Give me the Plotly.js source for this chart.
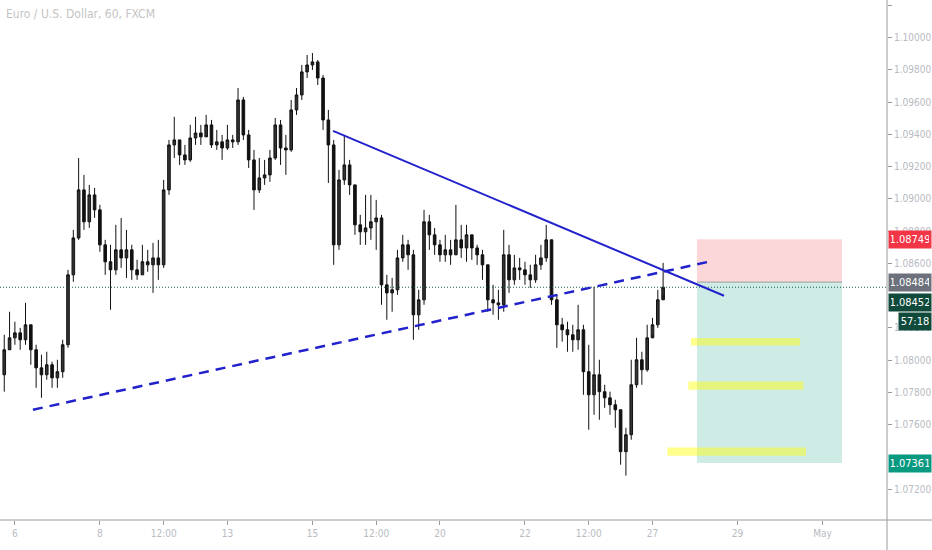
<!DOCTYPE html>
<html>
<head>
<meta charset="utf-8">
<script src="https://cdn.plot.ly/plotly-3.0.1.min.js"></script>
<style>
  html, body { margin: 0; padding: 0; background: #ffffff; }
  #chart_eurusd { width: 932px; height: 550px; }
</style>
</head>
<body>
<div id="chart_eurusd"></div>
<script>
// EUR/USD, hourly chart shown as 3 hour bars (x = trading hours from the 6th)
const barHours = 3;
const firstHour = -6;

const closes = [
  1.08064, 1.08138, 1.08169, 1.08126, 1.08219, 1.08064, 1.07952, 1.07909, 1.07971, 1.07890,
  1.07928, 1.08095, 1.08529, 1.08758, 1.09056, 1.08858, 1.09025, 1.08932, 1.08715, 1.08610,
  1.08560, 1.08684, 1.08634, 1.08684, 1.08560, 1.08529, 1.08610, 1.08591, 1.08634, 1.08591,
  1.09056, 1.09335, 1.09366, 1.09273, 1.09242, 1.09378, 1.09409, 1.09385, 1.09459, 1.09335,
  1.09354, 1.09316, 1.09366, 1.09354, 1.09614, 1.09397, 1.09242, 1.09056, 1.09130, 1.09149,
  1.09254, 1.09459, 1.09316, 1.09304, 1.09552, 1.09645, 1.09788, 1.09831, 1.09850, 1.09750,
  1.09490, 1.09335, 1.08715, 1.09118, 1.09211, 1.09087, 1.08839, 1.08796, 1.08820, 1.08858,
  1.08882, 1.08467, 1.08417, 1.08436, 1.08634, 1.08715, 1.08653, 1.08281, 1.08374, 1.08858,
  1.08777, 1.08715, 1.08653, 1.08684, 1.08653, 1.08746, 1.08696, 1.08777, 1.08696, 1.08653,
  1.08591, 1.08374, 1.08355, 1.08343, 1.08653, 1.08498, 1.08572, 1.08560, 1.08529, 1.08498,
  1.08591, 1.08634, 1.08746, 1.08374, 1.08219, 1.08188, 1.08157, 1.08126, 1.08188, 1.07928,
  1.07785, 1.07909, 1.07804, 1.07766, 1.07723, 1.07692, 1.07432, 1.07537, 1.07847, 1.08002,
  1.07940, 1.08138, 1.08219, 1.08374, 1.08452,
];

const highs = [
  1.08157, 1.08300, 1.08238, 1.08200, 1.08355, 1.08188, 1.08095, 1.08033, 1.08052, 1.07990,
  1.08002, 1.08126, 1.08560, 1.08808, 1.09254, 1.09149, 1.09087, 1.09068, 1.08963, 1.08746,
  1.08715, 1.08839, 1.08882, 1.08808, 1.08715, 1.08622, 1.08715, 1.08684, 1.08727, 1.08746,
  1.09118, 1.09366, 1.09509, 1.09366, 1.09335, 1.09459, 1.09509, 1.09459, 1.09521, 1.09490,
  1.09428, 1.09397, 1.09459, 1.09397, 1.09688, 1.09633, 1.09428, 1.09304, 1.09254, 1.09242,
  1.09304, 1.09502, 1.09490, 1.09397, 1.09614, 1.09688, 1.09831, 1.09893, 1.09905, 1.09862,
  1.09769, 1.09552, 1.09366, 1.09180, 1.09397, 1.09242, 1.09087, 1.08901, 1.09025, 1.09025,
  1.08994, 1.08901, 1.08529, 1.08510, 1.08684, 1.08777, 1.08746, 1.08684, 1.08436, 1.08932,
  1.08901, 1.08820, 1.08746, 1.08777, 1.08746, 1.08963, 1.08839, 1.08839, 1.08777, 1.08715,
  1.08684, 1.08591, 1.08467, 1.08436, 1.08808, 1.08715, 1.08653, 1.08634, 1.08610, 1.08591,
  1.08653, 1.08715, 1.08839, 1.08715, 1.08405, 1.08262, 1.08238, 1.08219, 1.08343, 1.08219,
  1.08095, 1.08455, 1.08002, 1.07847, 1.07804, 1.07754, 1.07692, 1.07580, 1.08002, 1.08138,
  1.08052, 1.08219, 1.08262, 1.08436, 1.08603,
];

const lows = [
  1.07804, 1.08064, 1.08095, 1.08064, 1.08095, 1.07971, 1.07828, 1.07766, 1.07878, 1.07828,
  1.07828, 1.07890, 1.08076, 1.08486, 1.08746, 1.08808, 1.08820, 1.08882, 1.08672, 1.08529,
  1.08312, 1.08529, 1.08572, 1.08510, 1.08498, 1.08498, 1.08529, 1.08548, 1.08417, 1.08498,
  1.08572, 1.09025, 1.09254, 1.09211, 1.09211, 1.09230, 1.09335, 1.09335, 1.09397, 1.09316,
  1.09304, 1.09242, 1.09304, 1.09316, 1.09335, 1.09366, 1.09192, 1.08932, 1.09037, 1.09087,
  1.09106, 1.09242, 1.09211, 1.09149, 1.09292, 1.09521, 1.09614, 1.09750, 1.09800, 1.09707,
  1.09428, 1.09099, 1.08591, 1.08684, 1.09087, 1.09025, 1.08777, 1.08715, 1.08715, 1.08746,
  1.08684, 1.08343, 1.08250, 1.08300, 1.08405, 1.08610, 1.08560, 1.08126, 1.08188, 1.08343,
  1.08684, 1.08653, 1.08610, 1.08610, 1.08591, 1.08653, 1.08634, 1.08610, 1.08622, 1.08591,
  1.08498, 1.08300, 1.08281, 1.08250, 1.08300, 1.08417, 1.08467, 1.08498, 1.08467, 1.08448,
  1.08479, 1.08560, 1.08610, 1.08343, 1.08076, 1.08114, 1.08052, 1.08052, 1.08064, 1.07785,
  1.07568, 1.07661, 1.07630, 1.07704, 1.07661, 1.07580, 1.07351, 1.07283, 1.07506, 1.07828,
  1.07847, 1.07928, 1.08157, 1.08200, 1.08405,
];

const firstOpen = 1.07909;

// x axis labels (trading hours from the 6th)
const tickHours = [0, 48, 84, 120, 168, 204, 240, 288, 324, 360, 408, 456];
const tickLabels = ["6", "8", "12:00", "13", "15", "12:00", "20", "22", "12:00", "27", "29", "May"];

// price axis labels (the ones hidden behind the price tags are left out)
const priceTicks = [1.072, 1.076, 1.078, 1.080, 1.082, 1.086, 1.088, 1.090, 1.092, 1.094, 1.096, 1.098, 1.100, 1.102];

// position tool levels
const stopPrice = 1.08749;
const entryPrice = 1.08484;
const targetPrice = 1.07361;
const lastPrice = 1.08452;
const countdown = "57:18";

// yellow target zones: [hour start, hour end, price low, price high]
const zones = [
  [381.7, 443.3, 1.08091, 1.08137],
  [380.2, 445.2, 1.07816, 1.07867],
  [368.4, 446.7, 1.07407, 1.07458],
];

// trend lines: [hour0, price0, hour1, price1]
const upperTrend = [179.6, 1.09422, 400.4, 1.08399];
const lowerTrend = [10.2, 1.07692, 394.2, 1.08616];

var cb_chart_eurusd = function () {
  let hours = closes.map((c, i) => firstHour + i * barHours);
  let opens = closes.map((c, i) => (i === 0 ? firstOpen : closes[i - 1]));

  let trace1 = {
    type: "candlestick",
    x: hours,
    open: opens,
    high: highs,
    low: lows,
    close: closes,
    increasing: { line: { color: "#111111", width: 1 }, fillcolor: "#333333" },
    decreasing: { line: { color: "#111111", width: 1 }, fillcolor: "#111111" },
    whiskerwidth: 0,
    hoverinfo: "skip",
    showlegend: false,
  };

  let shapes = [
    // risk / reward boxes
    {
      type: "rect", xref: "x", yref: "y", x0: 385.1, x1: 467.0,
      y0: entryPrice, y1: stopPrice,
      fillcolor: "rgba(242,54,69,0.2)", line: { width: 0 }, layer: "below",
    },
    {
      type: "rect", xref: "x", yref: "y", x0: 385.1, x1: 467.0,
      y0: targetPrice, y1: entryPrice,
      fillcolor: "rgba(8,153,129,0.2)", line: { width: 0 }, layer: "below",
    },
    {
      type: "line", xref: "x", yref: "y", x0: 385.1, x1: 467.0,
      y0: entryPrice, y1: entryPrice,
      line: { color: "#9e9e9e", width: 1 },
    },
    // current price line
    {
      type: "line", xref: "paper", yref: "y", x0: 0, x1: 1,
      y0: lastPrice, y1: lastPrice,
      line: { color: "#0f5f4a", width: 1, dash: "1px,2px" },
    },
    // trend lines
    {
      type: "line", xref: "x", yref: "y",
      x0: upperTrend[0], y0: upperTrend[1], x1: upperTrend[2], y1: upperTrend[3],
      line: { color: "#2222cc", width: 2 },
    },
    {
      type: "line", xref: "x", yref: "y",
      x0: lowerTrend[0], y0: lowerTrend[1], x1: lowerTrend[2], y1: lowerTrend[3],
      line: { color: "#2222cc", width: 2.5, dash: "10px,7px" },
    },
    // axis frame lines reaching the window edges
    {
      type: "line", xref: "paper", yref: "paper", x0: 1, x1: 1, y0: -0.06, y1: 1,
      line: { color: "#9a9a9a", width: 1 },
    },
    {
      type: "line", xref: "paper", yref: "paper", x0: 0, x1: 1.06, y0: 0, y1: 0,
      line: { color: "#9a9a9a", width: 1 },
    },
  ];

  zones.forEach(function (z) {
    shapes.push({
      type: "rect", xref: "x", yref: "y",
      x0: z[0], x1: z[1], y0: z[2], y1: z[3],
      fillcolor: "rgba(255,255,0,0.45)", line: { width: 0 },
    });
  });

  let narrow = "DejaVu Sans Condensed, Liberation Sans Narrow, Roboto, sans-serif";
  let labelFont = { family: narrow, size: 11, color: "#ffffff" };

  let priceLabel = function (price, text, bg, yshift) {
    return {
      xref: "paper", yref: "y", x: 1, y: price,
      xanchor: "left", yanchor: "middle",
      xshift: 1, yshift: yshift || 0,
      text: text, showarrow: false,
      bgcolor: bg, borderpad: 2, width: 38,
      font: labelFont,
    };
  };

  let annotations = [
    {
      xref: "paper", yref: "paper", x: 0, y: 1,
      xanchor: "left", yanchor: "top", xshift: 4, yshift: -5,
      text: "Euro / U.S. Dollar, 60, FXCM", showarrow: false,
      font: { family: narrow, size: 12, color: "#c4c4c4" },
    },
    priceLabel(stopPrice, stopPrice.toFixed(5), "#f23645"),
    priceLabel(entryPrice, entryPrice.toFixed(5), "#6c717b"),
    priceLabel(lastPrice, lastPrice.toFixed(5), "#0f4a3a", -15),
    {
      xref: "paper", yref: "y", x: 1, y: lastPrice,
      xanchor: "right", yanchor: "middle", xshift: 45, yshift: -34,
      text: countdown, showarrow: false,
      bgcolor: "#0f4a3a", borderpad: 2, width: 28,
      font: labelFont,
    },
    priceLabel(targetPrice, targetPrice.toFixed(5), "#089981"),
  ];

  let tickFont = { family: narrow, size: 10, color: "#b8bbc2" };

  let layout = {
    width: 932,
    height: 550,
    margin: { l: 0, r: 45, b: 30, t: 0, pad: 0 },
    paper_bgcolor: "#ffffff",
    plot_bgcolor: "#ffffff",
    showlegend: false,
    dragmode: false,

    xaxis: {
      range: [-8.4, 492.4],
      tickvals: tickHours,
      ticktext: tickLabels,
      showgrid: false,
      zeroline: false,
      ticks: "outside",
      ticklen: 4,
      tickcolor: "#9a9a9a",
      tickfont: tickFont,
      rangeslider: { visible: false },
      fixedrange: true,
    },
    yaxis: {
      side: "right",
      range: [1.07008, 1.10234],
      tickvals: priceTicks,
      tickformat: ".5f",
      showgrid: false,
      zeroline: false,
      ticks: "outside",
      ticklen: 4,
      tickcolor: "#9a9a9a",
      tickfont: tickFont,
      fixedrange: true,
    },

    shapes: shapes,
    annotations: annotations,
  };
  // end layout

  let config = {
    staticPlot: true,
    displayModeBar: false,
  };

  Plotly.newPlot("chart_eurusd", [trace1], layout, config);
};

cb_chart_eurusd();
</script>
</body>
</html>
